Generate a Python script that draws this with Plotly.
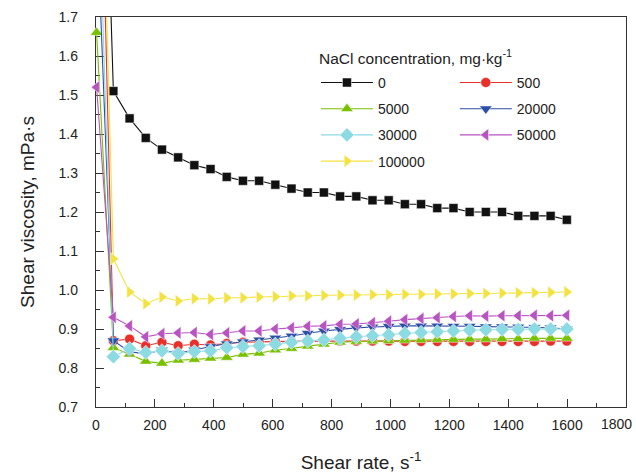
import plotly.graph_objects as go

shear_rate = [2, 59, 114, 169, 224, 279, 334, 389, 444, 499, 554, 609, 664, 719, 774,
              829, 884, 939, 994, 1049, 1104, 1159, 1214, 1269, 1324, 1379, 1434, 1489, 1544, 1599]

visc_0 = [2.9, 1.51, 1.44, 1.39, 1.36, 1.34, 1.32, 1.31, 1.29, 1.28, 1.28, 1.27, 1.26, 1.25, 1.25,
          1.24, 1.24, 1.23, 1.23, 1.22, 1.22, 1.21, 1.21, 1.20, 1.20, 1.20, 1.19, 1.19, 1.19, 1.18]
visc_500 = [2.61, 0.870, 0.874, 0.857, 0.866, 0.857, 0.861, 0.859, 0.863, 0.866, 0.867, 0.868, 0.868,
            0.869, 0.869, 0.869, 0.869, 0.869, 0.869, 0.868, 0.868, 0.868, 0.868, 0.868, 0.868, 0.868,
            0.868, 0.868, 0.869, 0.869]
visc_5000 = [1.66, 0.852, 0.835, 0.817, 0.812, 0.820, 0.822, 0.825, 0.827, 0.835, 0.838, 0.846, 0.850,
             0.856, 0.861, 0.866, 0.868, 0.869, 0.870, 0.871, 0.872, 0.873, 0.873, 0.874, 0.874, 0.875,
             0.875, 0.876, 0.876, 0.876]
visc_20000 = [1.98, 0.870, 0.842, 0.836, 0.846, 0.838, 0.846, 0.855, 0.862, 0.867, 0.872, 0.877, 0.882,
              0.889, 0.895, 0.899, 0.903, 0.905, 0.907, 0.908, 0.908, 0.908, 0.907, 0.907, 0.906, 0.906,
              0.905, 0.904, 0.903, 0.900]
visc_30000 = [2.21, 0.829, 0.850, 0.840, 0.844, 0.837, 0.842, 0.844, 0.852, 0.855, 0.857, 0.861, 0.866,
              0.869, 0.872, 0.876, 0.880, 0.883, 0.885, 0.889, 0.891, 0.893, 0.895, 0.897, 0.898, 0.899,
              0.899, 0.900, 0.900, 0.900]
visc_50000 = [1.52, 0.930, 0.908, 0.880, 0.888, 0.890, 0.891, 0.886, 0.890, 0.895, 0.895, 0.900, 0.903,
              0.907, 0.908, 0.912, 0.913, 0.916, 0.920, 0.924, 0.927, 0.929, 0.932, 0.934, 0.933, 0.934,
              0.934, 0.935, 0.934, 0.935]
visc_100000 = [2.66, 1.080, 0.995, 0.965, 0.982, 0.972, 0.978, 0.977, 0.980, 0.980, 0.982, 0.983, 0.985,
               0.985, 0.986, 0.987, 0.987, 0.988, 0.988, 0.989, 0.989, 0.990, 0.990, 0.991, 0.991, 0.992,
               0.993, 0.993, 0.994, 0.995]

labels = ["0", "500", "5000", "20000", "30000", "50000", "100000"]
series = [visc_0, visc_500, visc_5000, visc_20000, visc_30000, visc_50000, visc_100000]
colors = ["#111111", "#e8302a", "#79c000", "#2d4ea6", "#8cdae2", "#b853c2", "#f3e342"]
symbols = ["square", "circle", "triangle-up", "triangle-down", "diamond", "triangle-left", "triangle-right"]
sizes = [9, 10, 11, 11, 11, 11, 11]
legend_ids = ["legend", "legend2", "legend", "legend2", "legend", "legend2", "legend"]
legend_title = "NaCl concentration, mg·kg<sup>-1</sup>"
x_max = 1800
x_max_label = "1800"

FONT = "Arial, Liberation Sans, sans-serif"

fig = go.Figure()
for lab, ys, col, sym, sz, lg in zip(labels, series, colors, symbols, sizes, legend_ids):
    fig.add_trace(go.Scatter(
        x=shear_rate, y=ys, name=lab, mode="lines+markers",
        line=dict(color=col, width=1.1),
        marker=dict(symbol=sym, size=sz, color=col, line=dict(color="white", width=0.5)),
        cliponaxis=False, legend=lg, legendgroup=lab,
    ))

axis_common = dict(
    showline=True, linecolor="#333333", linewidth=1.3, mirror=True,
    ticks="inside", ticklen=8, tickcolor="#333333", tickwidth=1.2,
    showgrid=False, zeroline=False, automargin=False,
    tickfont=dict(family=FONT, size=14, color="#222222"),
    layer="below traces",
)

legend_common = dict(
    xanchor="left", yanchor="top",
    bgcolor="rgba(0,0,0,0)", font=dict(family=FONT, size=14, color="#222222"),
    itemwidth=52, tracegroupgap=5, traceorder="grouped",
)

fig.update_layout(
    width=636, height=475,
    margin=dict(l=96, r=10, t=17, b=68),
    plot_bgcolor="white", paper_bgcolor="white",
    font=dict(family=FONT, color="#222222"),
    showlegend=True,
    xaxis=dict(
        range=[0, x_max], dtick=200, tick0=0,
        minor=dict(dtick=100, ticks="inside", ticklen=4, tickcolor="#333333"),
        ticklabelstandoff=5,
        labelalias={x_max_label: " "},
        title=dict(text="Shear rate, s<sup>-1</sup>", font=dict(family=FONT, size=19, color="#222222"), standoff=23),
        **axis_common,
    ),
    yaxis=dict(
        range=[0.7, 1.7], dtick=0.1, tick0=0.7, tickformat=".1f",
        minor=dict(dtick=0.05, ticks="inside", ticklen=4, tickcolor="#333333"),
        ticklabelstandoff=14,
        title=dict(text="Shear viscosity, mPa·s", font=dict(family=FONT, size=19, color="#222222"), standoff=18),
        **axis_common,
    ),
    legend=dict(x=0.415, y=0.872, **legend_common),
    legend2=dict(x=0.677, y=0.872, **legend_common),
    annotations=[
        dict(
            text=legend_title, xref="paper", yref="paper", x=0.417, y=0.898,
            xanchor="left", yanchor="middle", showarrow=False,
            font=dict(family=FONT, size=15.5, color="#222222"),
        ),
        dict(
            text=x_max_label, xref="x", yref="paper", x=x_max, y=0,
            xanchor="right", yanchor="top", xshift=8, yshift=-7, showarrow=False,
            font=dict(family=FONT, size=14, color="#222222"),
        ),
    ],
)

fig.write_html("out.html", config={"displayModeBar": False},
               post_script="document.body.style.margin='0';")
